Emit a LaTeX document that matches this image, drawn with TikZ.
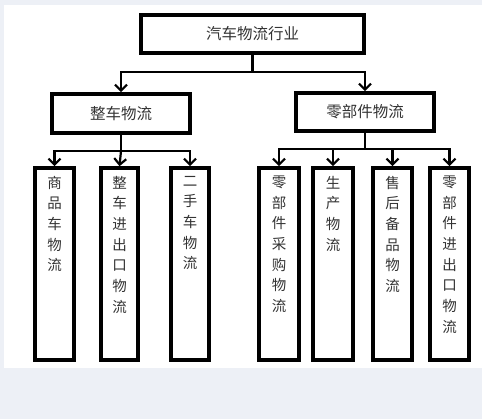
\documentclass[tikz,border=0pt]{standalone}
\usepackage{fontspec}
\setmainfont{Noto Sans CJK SC}
\usetikzlibrary{arrows.meta}
\definecolor{bgout}{HTML}{EDF0F6}
\definecolor{txt}{HTML}{333333}
\tikzset{
  box/.style={draw=black,line width=3.6pt,fill=white,inner sep=0pt,font=\fontsize{15.5pt}{18pt}\selectfont,text=txt},
  kid/.style={box,minimum height=192pt},
  vtext/.style={anchor=north,inner sep=0pt,align=center,text=txt,font=\fontsize{14.5pt}{20.7pt}\selectfont},
  conn/.style={draw=black,line width=2.2pt},
  arr/.style={conn,-{Straight Barb[length=6pt,width=12pt,line width=2.2pt]}}
}
\begin{document}
\begin{tikzpicture}[x=1pt,y=-1pt]
\fill[bgout] (0,0) rectangle (482,419);
\fill[white] (4,5) rectangle (482,368);
\useasboundingbox (0,0) rectangle (482,419);
\node[box,minimum width=223pt,minimum height=38pt] (top) at (252.5,34) {汽车物流行业};
\node[box,minimum width=138pt,minimum height=39pt] (m1) at (121,113.5) {整车物流};
\node[box,minimum width=138pt,minimum height=38pt] (m2) at (365,112) {零部件物流};
\node[kid,minimum width=39pt] (c1) at (54.5,264) {};
\node[kid,minimum width=37pt] (c2) at (119.5,264) {};
\node[kid,minimum width=38pt] (c3) at (190,264) {};
\node[kid,minimum width=40pt] (c4) at (279,264) {};
\node[kid,minimum width=40pt] (c5) at (333,264) {};
\node[kid,minimum width=39pt] (c6) at (392.5,264) {};
\node[kid,minimum width=39pt] (c7) at (449.5,264) {};
\coordinate (b0) at (0,72);
\coordinate (b1) at (0,151);
\coordinate (b2) at (0,149);
\draw[conn] (top.south) -- (top.south |- b0);
\draw[arr] (top.south |- b0) -| (m1.north);
\draw[arr] (top.south |- b0) -| (m2.north);
\draw[conn] (m1.south) -- (m1.south |- b1);
\draw[arr] (m1.south |- b1) -| (c1.north);
\draw[arr] (m1.south |- b1) -- (c2.north);
\draw[arr] (m1.south |- b1) -| (c3.north);
\draw[conn] (m2.south) -- (m2.south |- b2);
\draw[arr] (m2.south |- b2) -| (c4.north);
\draw[arr] (m2.south |- b2) -| (c5.north);
\draw[arr] (m2.south |- b2) -| (c6.north);
\draw[arr] (m2.south |- b2) -| (c7.north);
\node[vtext] (t1) at ([yshift=-9.5pt]c1.north) {商\\品\\车\\物\\流};
\node[vtext] (t2) at ([yshift=-9.5pt]c2.north) {整\\车\\进\\出\\口\\物\\流};
\node[vtext] (t3) at ([yshift=-9.5pt]c3.north) {二\\手\\车\\物\\流};
\node[vtext] (t4) at ([yshift=-9.5pt]c4.north) {零\\部\\件\\采\\购\\物\\流};
\node[vtext] (t5) at ([yshift=-9.5pt]c5.north) {生\\产\\物\\流};
\node[vtext] (t6) at ([yshift=-9.5pt]c6.north) {售\\后\\备\\品\\物\\流};
\node[vtext] (t7) at ([yshift=-9.5pt]c7.north) {零\\部\\件\\进\\出\\口\\物\\流};
\end{tikzpicture}
\end{document}
